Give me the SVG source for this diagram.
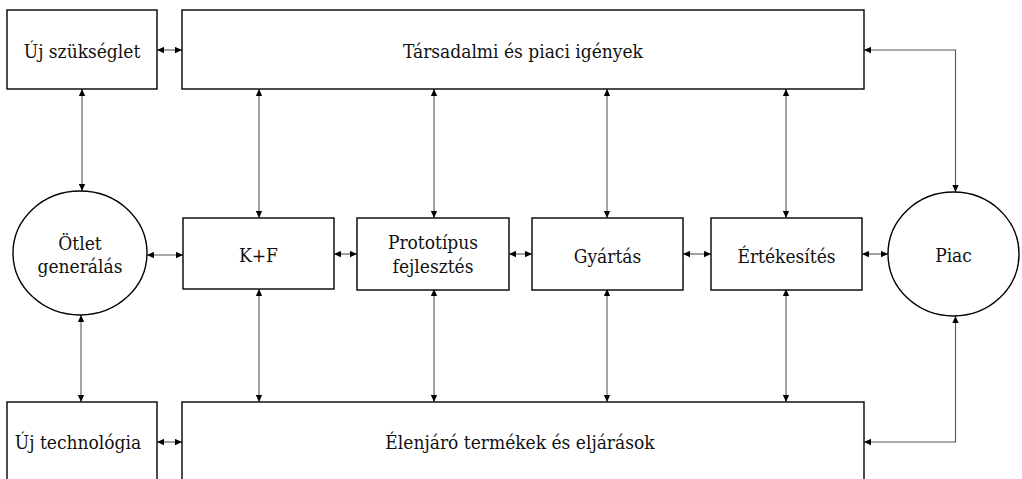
<svg xmlns="http://www.w3.org/2000/svg" width="1022" height="479" viewBox="0 0 1022 479">
  <style>
    .box { fill: #fff; stroke: #000; stroke-width: 1.4; }
    .conn { fill: none; stroke: #555; stroke-width: 1.1; marker-start: url(#head); marker-end: url(#head); }
    text { font-family: "DejaVu Serif Condensed", "DejaVu Serif", serif; font-stretch: condensed; font-size: 19px; fill: #111; text-anchor: middle; }
  </style>
  <defs>
    <marker id="head" viewBox="0 0 10 10" refX="10" refY="5" markerWidth="7" markerHeight="7" markerUnits="userSpaceOnUse" orient="auto-start-reverse">
      <path d="M0,0.5 L10,5 L0,9.5 Z" fill="#000"/>
    </marker>
  </defs>

  <rect width="1022" height="479" fill="#fff"/>

  <!-- connectors -->
  <g id="connectors">
    <!-- top row -->
    <path class="conn" d="M157,50 H182"/>
    <path class="conn" d="M82,89 V191"/>
    <path class="conn" d="M259,89 V218"/>
    <path class="conn" d="M434,89 V218"/>
    <path class="conn" d="M607,89 V218"/>
    <path class="conn" d="M786,89 V218"/>
    <path class="conn" d="M864,50 H955.5 V192"/>
    <!-- middle row -->
    <path class="conn" d="M147,255 H183"/>
    <path class="conn" d="M334,254 H357"/>
    <path class="conn" d="M509,254 H532"/>
    <path class="conn" d="M683,254 H711"/>
    <path class="conn" d="M862,254 H888"/>
    <!-- bottom row -->
    <path class="conn" d="M81,315 V402"/>
    <path class="conn" d="M259,289 V402"/>
    <path class="conn" d="M434,289 V402"/>
    <path class="conn" d="M607,289 V402"/>
    <path class="conn" d="M786,289 V402"/>
    <path class="conn" d="M157,442 H182"/>
    <path class="conn" d="M955.5,316 V442 H864"/>
  </g>

  <g id="uj-szukseglet">
    <rect class="box" x="7" y="10" width="150" height="79"/>
    <text x="82" y="58">Új szükséglet</text>
  </g>
  <g id="tarsadalmi-igenyek">
    <rect class="box" x="182" y="10" width="682" height="79"/>
    <text x="523" y="58">Társadalmi és piaci igények</text>
  </g>

  <g id="otlet-generalas">
    <ellipse class="box" cx="80" cy="253" rx="67" ry="62"/>
    <text x="80" y="250">Ötlet</text>
    <text x="80" y="273">generálás</text>
  </g>
  <g id="k-f">
    <rect class="box" x="183" y="218" width="151" height="71"/>
    <text x="258.5" y="262">K+F</text>
  </g>
  <g id="prototipus">
    <rect class="box" x="357" y="218" width="152" height="72"/>
    <text x="433" y="249">Prototípus</text>
    <text x="433" y="273">fejlesztés</text>
  </g>
  <g id="gyartas">
    <rect class="box" x="532" y="218" width="151" height="72"/>
    <text x="607.5" y="263">Gyártás</text>
  </g>
  <g id="ertekesites">
    <rect class="box" x="711" y="218" width="151" height="72"/>
    <text x="786.5" y="263">Értékesítés</text>
  </g>
  <g id="piac">
    <ellipse class="box" cx="953.5" cy="254" rx="65.5" ry="62"/>
    <text x="953.5" y="262">Piac</text>
  </g>

  <g id="uj-technologia">
    <rect class="box" x="7" y="402" width="150" height="90"/>
    <text x="78" y="449">Új technológia</text>
  </g>
  <g id="elenjaro">
    <rect class="box" x="182" y="402" width="682" height="90"/>
    <text x="520" y="449">Élenjáró termékek és eljárások</text>
  </g>
</svg>
